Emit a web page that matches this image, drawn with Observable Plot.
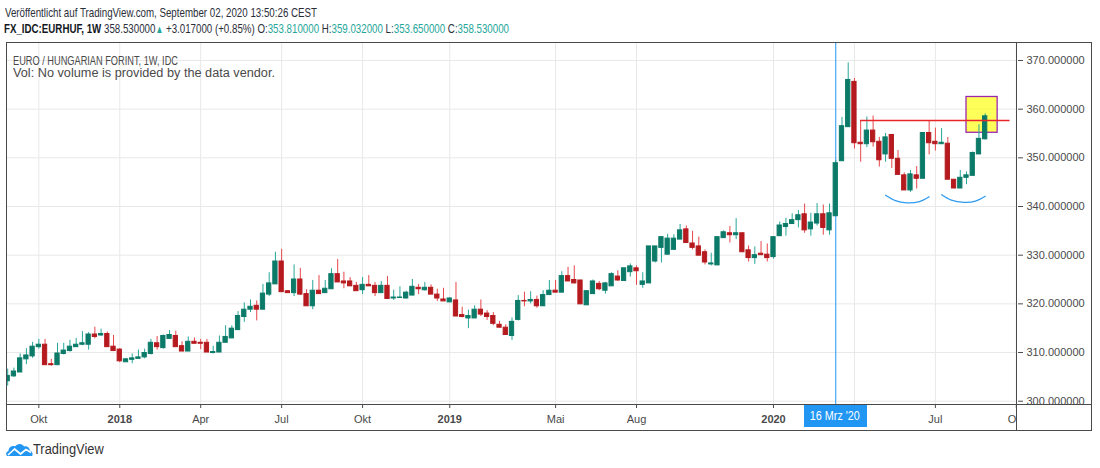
<!DOCTYPE html>
<html><head><meta charset="utf-8">
<script src="https://cdn.jsdelivr.net/npm/d3@7"></script>
<script src="https://cdn.jsdelivr.net/npm/@observablehq/plot@0.6"></script>
<style>
html,body{margin:0;padding:0;background:#fff;}
body{width:1100px;height:468px;position:relative;overflow:hidden;font-family:"Liberation Sans",Arial,sans-serif;}
.fit{position:absolute;white-space:nowrap;transform-origin:0 50%;line-height:1;}
.g{color:#26a69a;}
#chart{position:absolute;left:0;top:43px;}
.ln{position:absolute;background:#4a4a4a;}
</style></head><body>
<div id="l1" class="fit" style="left:5px;top:6.3px;font-size:13.5px;color:#2a2e39"></div>
<div id="l2" class="fit" style="left:4px;top:21.6px;font-size:13.5px;color:#2a2e39"></div>
<div id="chart"></div>
<div id="t1" class="fit" style="left:13px;top:54.7px;font-size:12.5px;color:#4a4a4a">EURO / HUNGARIAN FORINT, 1W, IDC</div>
<div id="t2" class="fit" style="left:13px;top:67.2px;font-size:12.5px;color:#4a4a4a">Vol: No volume is provided by the data vendor.</div>
<div style="position:absolute;left:1017px;top:405px;width:74px;height:25px;background:#fff"></div>
<div style="position:absolute;left:6px;top:42px;width:1086px;height:389px;border:1px solid #4a4a4a;box-sizing:border-box"></div>
<div class="ln" style="left:1016px;top:42px;width:1px;height:389px"></div>
<div class="ln" style="left:6px;top:404px;width:1086px;height:1px"></div>
<div id="xbox" style="position:absolute;top:404.5px;width:63px;height:22.5px;background:#2196f3;color:#fff;font-size:12px;line-height:22.5px;text-align:center;white-space:nowrap;overflow:hidden"><span id="xboxt" style="display:inline-block;transform-origin:50% 50%"></span></div>
<svg style="position:absolute;left:6px;top:443px" width="27" height="13" viewBox="0 0 27 13">
<path d="M1 13 C-0.5 12 0 8.5 2.5 8 C2.5 4.5 6 2 9 3.5 C11 0 16.5 0 18 3.5 C21 2.5 24 5 23.8 7.5 C26 7.8 27.5 11 26 13 Z" fill="#2196f3"/>
<path d="M2 12 L8.5 6 L14.5 11 L20 6.5 L25 9.5" fill="none" stroke="#fff" stroke-width="1.7" stroke-linejoin="round"/>
</svg>
<div id="tv" class="fit" style="left:33.3px;top:441.5px;font-size:14px;color:#333">TradingView</div>
<script>
// ---- data (weekly EUR/HUF, IDC) ----
const firstWeek = "2017-08-28";
const lastWeek = "2020-08-31";
const open = [
304.1,305.1,305.9,308.6,309.2,311.1,311.6,307.6,307.4,309.7,
310.3,311.1,311.6,311.6,313.7,313.5,313.8,311.2,310.6,308.0,
308.5,308.7,309.0,309.7,311.9,310.9,312.8,313.4,311.3,310.2,
312.2,312.0,312.0,309.9,310.0,312.0,312.9,314.6,317.3,318.8,
319.6,318.8,321.9,324.0,328.7,322.6,322.2,325.0,322.0,319.5,
322.7,322.2,323.0,326.1,324.6,324.6,323.7,322.8,323.9,323.7,
322.2,323.7,321.1,321.2,321.1,321.7,323.3,322.8,323.3,321.9,
320.9,320.3,320.7,317.7,317.0,317.0,318.8,318.0,317.5,315.7,
315.1,313.4,316.7,320.6,320.5,320.8,319.5,321.8,322.7,322.3,
325.7,324.9,324.8,319.7,322.0,324.1,322.7,323.6,325.6,324.7,
326.5,327.3,323.9,324.2,328.7,331.5,330.1,331.1,333.2,335.3,
332.4,331.8,330.6,328.1,327.9,333.5,334.5,334.1,334.5,331.0,
329.4,330.3,330.1,329.6,333.9,335.8,336.4,337.2,338.4,335.3,
336.5,338.4,335.1,338.0,349.3,356.3,365.6,353.1,352.8,355.6,
353.3,350.7,354.7,349.8,346.4,343.3,346.4,345.7,355.1,353.3,
352.8,352.9,345.5,343.7,345.9,346.3,350.7,353.81];
const high = [
306.6,306.8,309.7,310.8,312.1,312.7,312.7,308.6,311.9,311.9,
312.5,312.9,314.3,314.1,315.2,314.8,314.2,313.5,310.8,308.8,
309.7,310.5,310.7,312.7,313.3,313.6,314.5,314.4,312.2,313.2,
313.0,312.7,312.7,311.3,313.4,315.5,315.5,318.4,320.2,320.8,
320.6,324.0,326.4,330.6,331.2,322.6,328.0,327.3,322.9,324.8,
325.8,324.8,327.2,329.1,326.5,325.4,324.4,325.4,325.8,324.4,
324.6,325.6,322.8,323.5,322.6,325.0,324.0,324.4,323.9,323.0,
323.2,321.3,324.4,319.3,318.7,319.6,320.8,318.6,318.2,316.4,
315.7,317.1,321.7,322.4,322.5,321.6,322.7,324.8,324.8,326.6,
327.5,327.8,324.8,322.7,324.9,324.6,324.4,326.4,326.8,327.3,
328.2,327.8,326.4,331.8,331.8,333.7,334.3,334.2,336.3,336.0,
334.9,333.7,331.1,330.4,333.7,335.0,335.9,337.5,334.5,331.9,
331.7,332.8,332.3,333.7,336.8,337.6,338.5,339.2,340.5,338.6,
340.6,340.3,340.5,349.5,358.3,369.5,366.3,357.6,358.4,358.6,
354.2,355.0,354.7,351.5,346.9,347.4,348.2,355.1,357.5,356.1,
356.0,354.2,345.5,347.4,347.1,351.2,356.8,359.032];
const low = [
303.1,304.9,305.9,307.5,308.8,310.7,307.4,307.2,307.4,309.5,
310.1,311.1,311.4,310.5,312.8,313.3,311.1,310.2,307.9,308.0,
307.7,308.7,308.7,309.5,310.5,310.7,312.7,311.1,310.2,310.2,
311.8,310.6,310.0,309.7,310.0,312.0,312.9,314.6,316.2,318.2,
316.5,318.8,321.5,324.0,322.4,322.2,321.5,321.7,319.5,318.8,
322.0,322.2,323.0,324.4,323.1,323.6,322.6,321.9,323.6,321.5,
322.2,321.0,320.7,321.2,321.0,321.7,321.9,322.6,321.9,320.5,
320.5,320.3,317.4,317.1,314.9,317.0,317.4,316.6,315.5,315.0,
313.6,312.5,316.5,319.4,320.0,319.1,319.5,321.8,322.3,322.3,
324.6,324.1,319.9,319.7,322.0,322.7,322.0,323.6,324.6,324.7,
325.5,323.8,323.2,324.2,328.4,328.4,330.1,331.1,333.2,332.5,
331.1,329.9,328.0,327.8,327.9,333.5,332.5,333.2,330.6,328.6,
328.1,330.0,328.6,329.2,333.9,333.9,336.4,335.6,334.5,333.9,
336.0,334.1,334.1,338.0,349.3,356.3,351.8,349.1,352.1,352.2,
348.1,349.1,347.8,346.5,343.3,342.9,343.6,345.7,350.6,351.4,
352.8,345.5,343.7,343.7,344.5,346.3,350.7,353.65];
const close = [
305.2,306.1,308.8,309.4,311.2,311.6,307.4,307.4,309.8,310.4,
311.2,311.6,311.9,313.7,313.2,313.8,311.1,310.3,308.2,308.6,
308.8,309.0,309.9,312.0,311.1,313.4,313.6,311.1,310.2,312.2,
311.8,311.8,310.0,310.1,312.0,313.2,314.9,317.5,318.8,319.4,
318.8,322.1,324.2,328.7,322.4,322.2,325.0,321.9,319.5,322.7,
322.0,323.1,326.1,324.4,324.2,323.6,322.6,323.9,323.6,322.2,
323.7,321.0,321.3,321.3,322.3,323.5,323.0,323.3,321.9,321.1,
320.5,321.1,317.4,317.3,317.5,318.8,317.8,317.3,315.9,315.1,
313.6,316.3,320.6,320.5,320.8,319.5,321.8,322.7,322.3,325.7,
324.6,324.2,319.9,322.6,324.6,323.0,324.2,326.1,324.8,327.3,
327.7,326.7,324.6,331.8,331.8,333.7,333.4,333.4,335.1,332.5,
331.5,329.9,328.5,328.3,333.7,334.7,334.1,334.5,330.6,329.4,
330.0,330.0,329.4,333.7,336.1,336.4,337.2,338.2,335.1,336.7,
338.4,335.6,338.6,348.9,356.5,366.0,353.0,352.8,355.6,353.2,
349.5,354.2,349.8,346.5,343.3,346.6,345.7,355.1,353.0,352.8,
353.1,345.5,343.7,345.9,346.4,351.0,353.9,358.53];

// axis ticks
const yTicks = [300,310,320,330,340,350,360,370];
const monthTickDates = ["2017-10-02","2018-04-02","2018-07-02","2018-10-01","2019-05-06","2019-08-05","2020-07-06","2020-10-05"];
const monthTickLabels = ["Okt","Apr","Jul","Okt","Mai","Aug","Jul","Okt"];
const yearTickDates = ["2018-01-01","2019-01-07","2020-01-06"];
const yearTickLabels = ["2018","2019","2020"];
const hiddenGridDates = ["2020-04-06"];

// annotations
const crossDate = "2020-03-16";
const crossLabel = "16 Mrz '20";
const resistanceLevel = 357.67;
const resistanceFrom = "2020-04-13";
const resistanceTo = "2020-09-28";
const boxDates = ["2020-08-10","2020-09-14"];
const boxPrices = [355.15, 362.5];
const arc1Dates = ["2020-05-11","2020-05-22","2020-06-04","2020-06-18","2020-06-29"];
const arc1Prices = [342.3, 341.2, 340.75, 341.0, 342.0];
const arc2Dates = ["2020-07-13","2020-07-24","2020-08-07","2020-08-20","2020-08-31"];
const arc2Prices = [342.4, 341.3, 340.85, 341.1, 342.1];

// header texts
const symbolText = "FX_IDC:EURHUF, 1W";
const changeText = "+3.017000 (+0.85%)";
const publishedText = "Veröffentlicht auf TradingView.com, September 02, 2020 13:50:26 CEST";

// ---- build ----
const D = s => new Date(s + "T00:00Z");
const weeks = d3.utcMonday.range(D(firstWeek), d3.utcDay.offset(D(lastWeek), 1));
const candles = weeks.map((date, i) => ({date, open: open[i], high: high[i], low: low[i], close: close[i]}));
const up = candles.filter(d => d.close >= d.open);
const down = candles.filter(d => d.close < d.open);
const half = 2.4 * 864e5;
const bx1 = d => new Date(+d.date - half), bx2 = d => new Date(+d.date + half);

const monthMap = new Map(monthTickDates.map((s, i) => [+D(s), monthTickLabels[i]]));
const yearMap = new Map(yearTickDates.map((s, i) => [+D(s), yearTickLabels[i]]));
const gridDates = [...monthTickDates, ...yearTickDates, ...hiddenGridDates].map(D);

const arc1 = arc1Dates.map((s, i) => ({date: D(s), price: arc1Prices[i]}));
const arc2 = arc2Dates.map((s, i) => ({date: D(s), price: arc2Prices[i]}));

const chart = Plot.plot({
  width: 1100, height: 390,
  marginLeft: 7, marginRight: 83, marginTop: 0, marginBottom: 29,
  style: {background: "#fff", fontFamily: "'Liberation Sans', Arial, sans-serif", fontSize: "11px", color: "#4a4a4a"},
  x: {type: "utc", domain: [new Date("2017-08-27T18:37Z"), new Date("2020-10-06T08:00Z")], axis: null, label: null},
  y: {domain: [299.32, 373.49], axis: null, label: null},
  marks: [
    Plot.gridY(yTicks, {stroke: "#e8e8e8", strokeOpacity: 1}),
    Plot.gridX(gridDates, {stroke: "#e8e8e8", strokeOpacity: 1}),
    Plot.axisY(yTicks, {anchor: "right", tickSize: 5, tickPadding: 4, tickFormat: d => d.toFixed(6), stroke: "#4a4a4a", fill: "#4a4a4a", label: null}),
    Plot.axisX(monthTickDates.map(D), {anchor: "bottom", tickSize: 4, tickPadding: 7, tickFormat: d => monthMap.get(+d), stroke: "#4a4a4a", fill: "#4a4a4a", label: null}),
    Plot.axisX(yearTickDates.map(D), {anchor: "bottom", tickSize: 4, tickPadding: 7, tickFormat: d => yearMap.get(+d), stroke: "#4a4a4a", fill: "#4a4a4a", fontWeight: "bold", label: null}),
    Plot.rect([{x1: D(boxDates[0]), x2: D(boxDates[1]), y1: boxPrices[0], y2: boxPrices[1]}], {x1: "x1", x2: "x2", y1: "y1", y2: "y2", fill: "#ffff00", fillOpacity: 0.65, stroke: "#9c27b0", strokeWidth: 1.3}),
    Plot.ruleX([D(crossDate)], {stroke: "#2196f3", strokeWidth: 1}),
    Plot.ruleX(up, {x: "date", y1: "low", y2: "high", stroke: "#26a69a", strokeWidth: 1, clip: true}),
    Plot.ruleX(down, {x: "date", y1: "low", y2: "high", stroke: "#e8464a", strokeWidth: 1, clip: true}),
    Plot.rect(up, {x1: bx1, x2: bx2, y1: "open", y2: "close", fill: "#0c7a68", stroke: "#0c7a68", strokeWidth: 1, clip: true}),
    Plot.rect(down, {x1: bx1, x2: bx2, y1: "open", y2: "close", fill: "#b51a1f", stroke: "#b51a1f", strokeWidth: 1, clip: true}),
    Plot.ruleY([resistanceLevel], {x1: D(resistanceFrom), x2: D(resistanceTo), stroke: "#e8262a", strokeWidth: 1.3}),
    Plot.line(arc1, {x: "date", y: "price", curve: "natural", stroke: "#2f9bf0", strokeWidth: 1.3}),
    Plot.line(arc2, {x: "date", y: "price", curve: "natural", stroke: "#2f9bf0", strokeWidth: 1.3})
  ]
});
document.getElementById("chart").appendChild(chart);

// header
const last = candles[candles.length - 1];
const f6 = v => v.toFixed(6);
document.getElementById("l1").textContent = publishedText;
document.getElementById("l2").innerHTML =
  `<b style="color:#131722">${symbolText}</b> ${f6(last.close)}<span class="g" style="font-size:11px">▲</span> ${changeText} O:<span class="g">${f6(last.open)}</span> H:<span class="g">${f6(last.high)}</span> L:<span class="g">${f6(last.low)}</span> C:<span class="g">${f6(last.close)}</span>`;

// crosshair date label box
const xs = chart.scale("x");
const cx = xs.apply(D(crossDate));
const xbox = document.getElementById("xbox");
xbox.style.left = (cx - 31.5) + "px";
document.getElementById("xboxt").textContent = crossLabel;

function fitW(id, w) {
  const el = document.getElementById(id);
  el.style.transform = "none";
  const r = el.getBoundingClientRect().width;
  if (r > 0) el.style.transform = `scaleX(${w / r})`;
}
function fitAll() {
  fitW("l1", 312); fitW("l2", 505); fitW("t1", 165); fitW("t2", 262); fitW("tv", 70.7); fitW("xboxt", 50);
}
fitAll();
if (document.fonts && document.fonts.ready) document.fonts.ready.then(fitAll);
</script>
</body></html>
